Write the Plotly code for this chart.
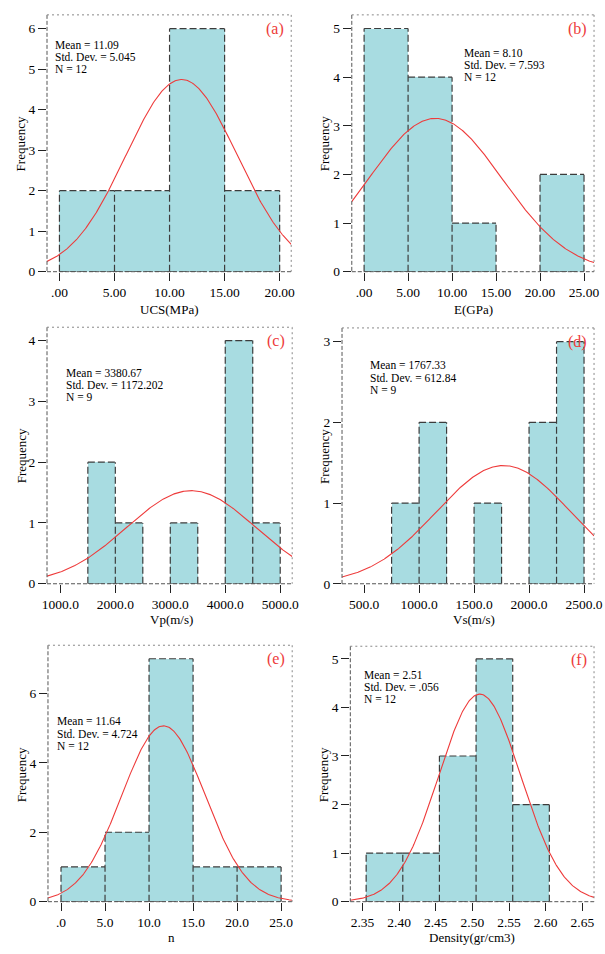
import numpy as np
import plotly.graph_objects as go

W, H = 605, 954

# ---- data: histogram bins (left edge, width, counts) and summary stats ----
ucs_edge0, ucs_width = 0.0, 5.0
ucs_counts = [2, 2, 6, 2]
ucs_mean, ucs_sd, ucs_n = 11.09, 5.045, 12

e_edge0, e_width = 0.0, 5.0
e_counts = [5, 4, 1, 0, 2]
e_mean, e_sd, e_n = 8.10, 7.593, 12

vp_edge0, vp_width = 1500.0, 500.0
vp_counts = [2, 1, 0, 1, 0, 4, 1]
vp_mean, vp_sd, vp_n = 3380.67, 1172.202, 9

vs_edge0, vs_width = 750.0, 250.0
vs_counts = [1, 2, 0, 1, 0, 2, 3]
vs_mean, vs_sd, vs_n = 1767.33, 612.84, 9

n_edge0, n_width = 0.0, 5.0
n_counts = [1, 2, 7, 1, 1]
n_mean, n_sd, n_n = 11.64, 4.724, 12

rho_edge0, rho_width = 2.355, 0.05
rho_counts = [1, 1, 3, 5, 2]
rho_mean, rho_sd, rho_n = 2.51, 0.056, 12

# tick values / labels
ucs_xticks = [0, 5, 10, 15, 20]
ucs_xlabels = [".00", "5.00", "10.00", "15.00", "20.00"]
e_xticks = [0, 5, 10, 15, 20, 25]
e_xlabels = [".00", "5.00", "10.00", "15.00", "20.00", "25.00"]
vp_xticks = [1000, 2000, 3000, 4000, 5000]
vp_xlabels = ["1000.0", "2000.0", "3000.0", "4000.0", "5000.0"]
vs_xticks = [500, 1000, 1500, 2000, 2500]
vs_xlabels = ["500.0", "1000.0", "1500.0", "2000.0", "2500.0"]
n_xticks = [0, 5, 10, 15, 20, 25]
n_xlabels = [".0", "5.0", "10.0", "15.0", "20.0", "25.0"]
rho_xticks = [2.35, 2.40, 2.45, 2.50, 2.55, 2.60, 2.65]
rho_xlabels = ["2.35", "2.40", "2.45", "2.50", "2.55", "2.60", "2.65"]

FONT = "Liberation Serif"
BAR_FILL = "#a8dce1"
BAR_EDGE = "#3c3c3c"
CURVE = "#ee3b3b"

panels = [
    dict(tag="(a)", title="UCS(MPa)", edge0=ucs_edge0, width=ucs_width, counts=ucs_counts,
         mean=ucs_mean, sd=ucs_sd, n=ucs_n, stats=("11.09", "5.045"),
         xticks=ucs_xticks, xlabels=ucs_xlabels, yticks=list(range(0, 7)),
         box=(43, 293, 15, 274), xr=(-1.13, 21.05), yr=(0, 6.34),
         stat_xy=(49, 45), title_xy=(168, 312), freq_xy=(16, 145)),
    dict(tag="(b)", title="E(GPa)", edge0=e_edge0, width=e_width, counts=e_counts,
         mean=e_mean, sd=e_sd, n=e_n, stats=("8.10", "7.593"),
         xticks=e_xticks, xlabels=e_xlabels, yticks=list(range(0, 6)),
         box=(355, 603, 15, 274), xr=(-1.4, 26.14), yr=(0, 5.28),
         stat_xy=(467.5, 53.5), title_xy=(480, 312), freq_xy=(327, 145)),
    dict(tag="(c)", title="Vp(m/s)", edge0=vp_edge0, width=vp_width, counts=vp_counts,
         mean=vp_mean, sd=vp_sd, n=vp_n, stats=("3380.67", "1172.202"),
         xticks=vp_xticks, xlabels=vp_xlabels, yticks=list(range(0, 5)),
         box=(43, 294, 330, 588.7), xr=(757, 5218), yr=(0, 4.22),
         stat_xy=(60.5, 376), title_xy=(170, 625), freq_xy=(16.5, 460)),
    dict(tag="(d)", title="Vs(m/s)", edge0=vs_edge0, width=vs_width, counts=vs_counts,
         mean=vs_mean, sd=vs_sd, n=vs_n, stats=("1767.33", "612.84"),
         xticks=vs_xticks, xlabels=vs_xlabels, yticks=list(range(0, 4)),
         box=(345, 603, 330.7, 588.7), xr=(299, 2591), yr=(0, 3.17),
         stat_xy=(372, 368.5), title_xy=(480, 625), freq_xy=(326.5, 460)),
    dict(tag="(e)", title="n", edge0=n_edge0, width=n_width, counts=n_counts,
         mean=n_mean, sd=n_sd, n=n_n, stats=("11.64", "4.724"),
         xticks=n_xticks, xlabels=n_xlabels, yticks=[0, 2, 4, 6],
         box=(44, 294, 650.7, 909.3), xr=(-1.48, 26.26), yr=(0, 7.39),
         stat_xy=(51.5, 727.5), title_xy=(170, 945), freq_xy=(16.5, 781.7)),
    dict(tag="(f)", title="Density(gr/cm3)", edge0=rho_edge0, width=rho_width, counts=rho_counts,
         mean=rho_mean, sd=rho_sd, n=rho_n, stats=("2.51", ".056"),
         xticks=rho_xticks, xlabels=rho_xlabels, yticks=list(range(0, 6)),
         box=(353.5, 603, 651.7, 909.3), xr=(2.3334, 2.666), yr=(0, 5.26),
         stat_xy=(365.5, 680.5), title_xy=(478, 945), freq_xy=(325.7, 781.7)),
]


def px(x):
    return x / W


def py(y):
    return 1 - y / H


fig = go.Figure()
layout = dict(width=W, height=H, margin=dict(l=0, r=0, t=0, b=0),
              paper_bgcolor="white", plot_bgcolor="white", showlegend=False,
              font=dict(family=FONT, size=13, color="black"))
shapes, annotations = [], []

for i, p in enumerate(panels, start=1):
    xa, ya = ("x" if i == 1 else f"x{i}"), ("y" if i == 1 else f"y{i}")
    x0, x1, y0, y1 = p["box"]
    counts = np.array(p["counts"], dtype=float)
    edges = p["edge0"] + p["width"] * np.arange(len(counts) + 1)
    centers = (edges[:-1] + edges[1:]) / 2

    # filled bars
    fig.add_trace(go.Bar(x=centers, y=counts, width=p["width"], xaxis=xa, yaxis=ya,
                         marker=dict(color=BAR_FILL, line=dict(width=0)),
                         hoverinfo="skip"))

    # dashed bar outlines; shared edges drawn only once
    ox, oy = [], []
    padded = np.concatenate([[0], counts, [0]])
    for k, e in enumerate(edges):
        h = max(padded[k], padded[k + 1])
        if h > 0:
            ox += [e, e, None]
            oy += [0, h, None]
    for l, r, c in zip(edges[:-1], edges[1:], counts):
        if c > 0:
            ox += [l, r, None, l, r, None]
            oy += [c, c, None, 0, 0, None]
    fig.add_trace(go.Scatter(x=ox, y=oy, mode="lines", xaxis=xa, yaxis=ya,
                             line=dict(color=BAR_EDGE, width=1.2, dash="7px,3px"),
                             hoverinfo="skip"))

    # fitted normal curve scaled to counts
    xs = np.linspace(p["xr"][0], p["xr"][1], 300)
    scale = p["n"] * p["width"] / (p["sd"] * np.sqrt(2 * np.pi))
    ys = scale * np.exp(-0.5 * ((xs - p["mean"]) / p["sd"]) ** 2)
    fig.add_trace(go.Scatter(x=xs, y=ys, mode="lines", xaxis=xa, yaxis=ya,
                             line=dict(color=CURVE, width=1.1), hoverinfo="skip"))

    axis_common = dict(showgrid=False, zeroline=False, showline=False,
                       ticks="outside", ticklen=8, tickwidth=1, tickcolor="#222",
                       tickfont=dict(family=FONT, size=13.5, color="black"),
                       fixedrange=True)
    layout["xaxis" if i == 1 else f"xaxis{i}"] = dict(
        axis_common, domain=[px(x0), px(x1)], range=list(p["xr"]), anchor=ya,
        tickmode="array", tickvals=p["xticks"], ticktext=p["xlabels"])
    layout["yaxis" if i == 1 else f"yaxis{i}"] = dict(
        axis_common, domain=[py(y1), py(y0)], range=list(p["yr"]), anchor=xa,
        tickmode="array", tickvals=p["yticks"],
        ticktext=[str(v) for v in p["yticks"]])

    # frame: dashed left/bottom axes, dotted top/right border
    shapes += [
        dict(type="line", xref="paper", yref="paper", x0=px(x0), x1=px(x0),
             y0=py(y0), y1=py(y1), line=dict(color="#555", width=1, dash="4px,2px")),
        dict(type="line", xref="paper", yref="paper", x0=px(x0), x1=px(x1),
             y0=py(y1), y1=py(y1), line=dict(color="#555", width=1, dash="4px,2px")),
        dict(type="line", xref="paper", yref="paper", x0=px(x0), x1=px(x1),
             y0=py(y0), y1=py(y0), line=dict(color="#888", width=1, dash="2px,3px")),
        dict(type="line", xref="paper", yref="paper", x0=px(x1), x1=px(x1),
             y0=py(y0), y1=py(y1), line=dict(color="#888", width=1, dash="2px,3px")),
    ]

    # summary statistics
    sx, sy = p["stat_xy"]
    lines = [f"Mean = {p['stats'][0]}", f"Std. Dev. = {p['stats'][1]}", f"N = {p['n']}"]
    for k, t in enumerate(lines):
        annotations.append(dict(x=px(sx), y=py(sy + 12.3 * k), xref="paper", yref="paper",
                                text=t, showarrow=False, xanchor="left", yanchor="middle",
                                font=dict(family=FONT, size=11.5, color="black")))

    # panel tag
    annotations.append(dict(x=px(x1 - 5), y=py(y0 + 14), xref="paper", yref="paper",
                            text=p["tag"], showarrow=False, xanchor="right", yanchor="middle",
                            font=dict(family=FONT, size=16, color=CURVE)))

    # axis titles
    tx, ty = p["title_xy"]
    annotations.append(dict(x=px(tx), y=py(ty), xref="paper", yref="paper", text=p["title"],
                            showarrow=False, xanchor="center", yanchor="middle",
                            font=dict(family=FONT, size=13, color="black")))
    fx, fy = p["freq_xy"]
    annotations.append(dict(x=px(fx), y=py(fy), xref="paper", yref="paper", text="Frequency",
                            showarrow=False, xanchor="center", yanchor="middle", textangle=-90,
                            font=dict(family=FONT, size=13, color="black")))

layout["shapes"] = shapes
layout["annotations"] = annotations
layout["bargap"] = 0
fig.update_layout(**layout)
fig.write_html("out.html")
